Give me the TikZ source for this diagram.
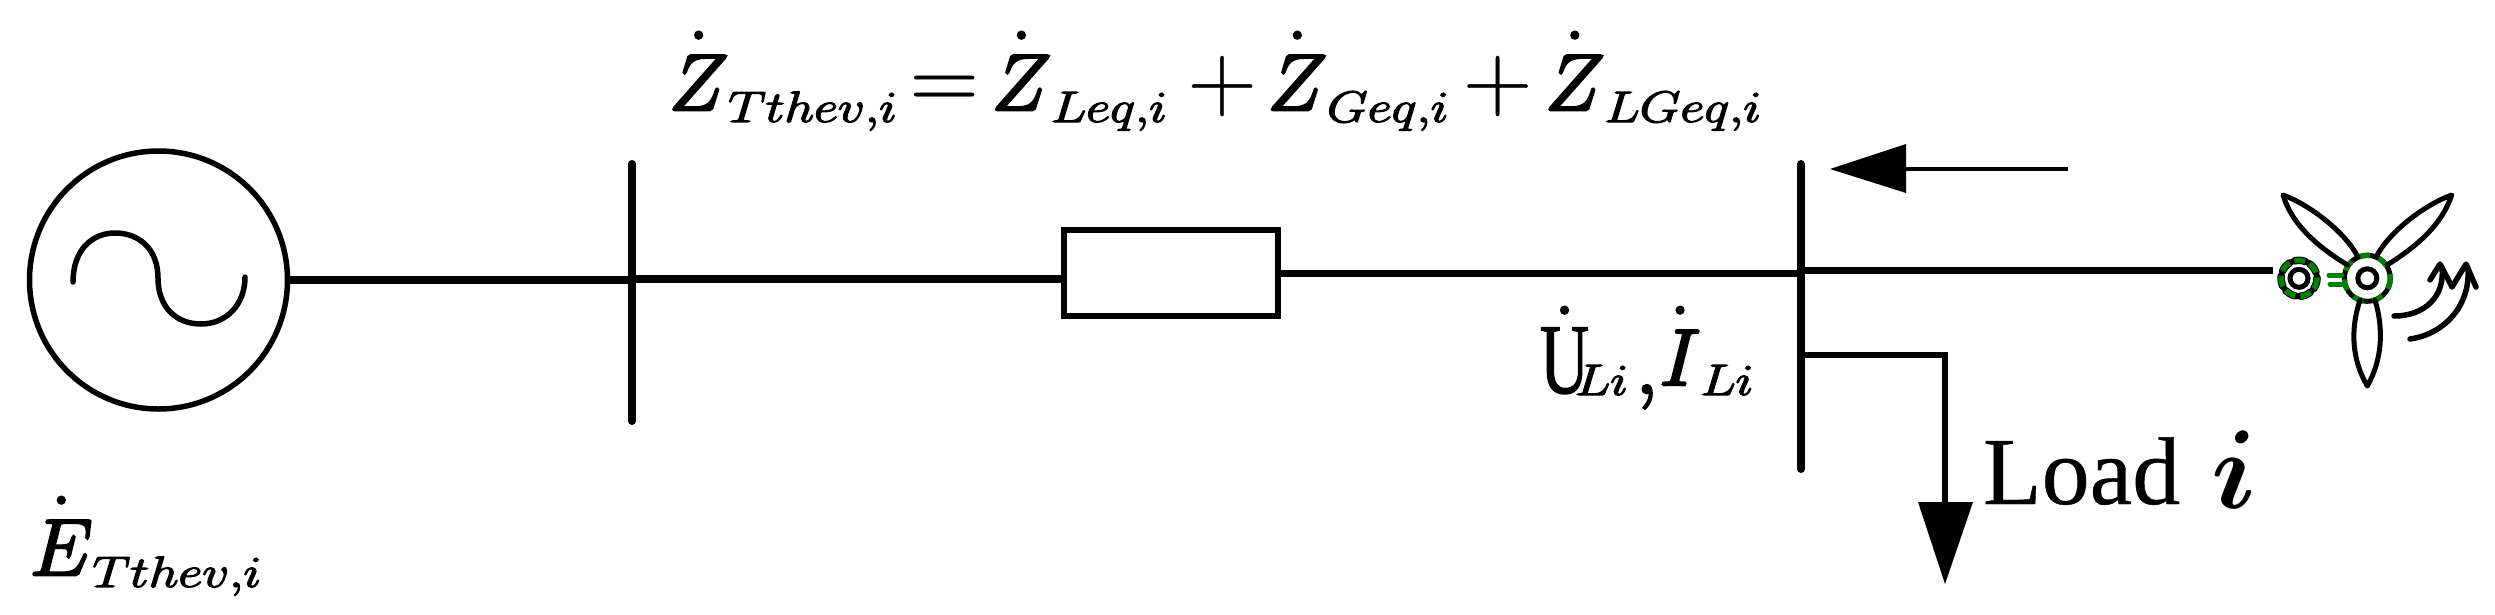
\RequirePackage{fix-cm}
\documentclass[tikz,border=0pt]{standalone}
\usepackage{fontspec}
\usepackage{graphicx}
\newfontfamily\timesf[FakeBold=0.4]{Liberation Serif}
\newfontfamily\timesu{Liberation Serif}
\definecolor{tgreen}{RGB}{0,128,0}
\DeclareMathSizes{80}{80}{44}{30}
\DeclareMathSizes{112}{112}{60}{40}
\newcommand{\subx}[2][1.2]{\scalebox{#1}[1]{\special{pdf:code 1.2 w}$\scriptstyle #2$}}
\newcommand{\hd}[1]{\dot{\raisebox{0pt}[60pt][0pt]{$#1$}}}
\newcommand{\bigop}[1]{\mathord{\scalebox{1.2}{\special{pdf:code 0.3 w}$#1$}}}
\newcommand{\heavy}{\special{pdf:code 2 Tr 2.6 w}}
\newcommand{\unheavy}{\special{pdf:code 0 Tr 1 w}}
\tikzset{
  wire/.style={line width=7pt,black},
  thick wire/.style={line width=8pt,black},
  busbar/.style={line width=8pt,black,line cap=round},
  mathlabel/.style={inner sep=0pt,outer sep=0pt,anchor=base west,font=\fontsize{80}{80}\selectfont},
  gring/.style={line width=7.5pt,black,line cap=round},
  gdash/.style={line width=5.5pt,tgreen},
  blade/.style={line width=5pt,black,line cap=round,line join=round}
}
\begin{document}
\begin{tikzpicture}[x=1pt,y=-1pt]
\useasboundingbox (0,0) rectangle (2495,614);
% generator
\node[circle,draw,line width=5.5pt,minimum size=258pt,inner sep=0pt] (gen) at (158.5,280) {};
\draw[line width=5.5pt,line cap=round] (73,282) .. controls (73,250) and (92,233) .. (115,233)
  .. controls (140,233) and (158,250) .. (158,278)
  .. controls (158,307) and (176,324) .. (201,324)
  .. controls (226,324) and (245,305) .. (245,277);
% buses
\coordinate (b1t) at (632,164); \coordinate (b1b) at (632,421);
\coordinate (b2t) at (1801,164); \coordinate (b2b) at (1801,469);
\draw[busbar] (b1t) -- (b1b);
\draw[busbar] (b2t) -- (b2b);
% impedance
\node[draw,line width=6pt,minimum width=214pt,minimum height=86pt,inner sep=0pt] (imp) at (1170.5,273) {};
% wires
\coordinate (w1) at (632,280);
\coordinate (w2) at (632,279);
\coordinate (w3) at (1801,273);
\coordinate (w4) at (1801,270.5);
\coordinate (w5) at (2273,270.5);
\draw[thick wire] (gen.east |- w1) -- (w1);
\draw[thick wire] (w2) -- (imp.west |- w2);
\draw[wire] (imp.east |- w3) -- (w3);
\draw[wire,line width=6.5pt] (w4) -- (w5);
% upper arrow
\coordinate (a1s) at (2068,169); \coordinate (a1b) at (1906,169);\coordinate (a1t) at (1830,169);
\draw[line width=4.5pt] (a1s) -- (a1b);
\fill (a1t) -- (1906,144) -- (1906,193) -- cycle;
% load branch
\coordinate (l1) at (1801,354.5); \coordinate (l2) at (1945,354.5); \coordinate (l3) at (1945,502);
\draw[line width=6pt] (l1) -- (l2) -- (l3);
\fill (1945,584) -- (1918,502) -- (1973,502) -- cycle;
% labels
\node[mathlabel] (eq) at (669,110) {\heavy$\hd{Z}_{\subx{Tthev,i}}\kern12pt\bigop{=}\kern13pt\hd{Z}_{\subx{Leq,i}}\kern20pt\bigop{+}\kern11pt\hd{Z}_{\subx{Geq,i}}\kern14pt\bigop{+}\kern13pt\hd{Z}_{\subx{LGeq,i}}$\unheavy};
\node[mathlabel] (elabel) at (30,575) {\heavy$\hd{E}_{\subx{Tthev,i}}$\unheavy};
\node[mathlabel] (ulabel) at (1540,393) {\heavy$\dot{\raisebox{0pt}[68pt][0pt]{\scalebox{0.68}[1]{\special{pdf:code 1.5 w}\timesu\fontsize{100}{100}\selectfont U}}}\kern-14pt\raisebox{-2pt}{\subx[1.2]{Li}}\kern8pt{,}\kern2pt\raisebox{8pt}{$\hd{I}$}\raisebox{-2pt}{\subx[1.2]{Li}}$\unheavy};
\node[inner sep=0pt,outer sep=0pt,anchor=base west] (load) at (1983,504) {\timesf\fontsize{96}{96}\selectfont Load};
\node[inner sep=0pt,outer sep=0pt,anchor=base west,font=\fontsize{112}{112}\selectfont\boldmath] (loadi) at (2211,508) {$i$};
% turbine
\node[circle,inner sep=0pt,minimum size=0pt] (hub1) at (2299,278.3) {};
\node[circle,inner sep=0pt,minimum size=0pt] (hub2) at (2367.3,278.3) {};
\draw[line width=5pt] (hub1) circle (9);
\draw[gring,dash pattern=on 11pt off 5pt] (hub1) circle (18);
\draw[gdash,dash pattern=on 11pt off 5pt] (hub1) circle (18);
\draw[line width=5pt] (hub2) circle (9.5);
\draw[line width=5pt] (hub2) circle (23);
\draw[gdash,dash pattern=on 11pt off 9pt] (hub2) circle (23);
\draw[tgreen,line width=5pt,line cap=round] (2329,275) -- (2342,275);
\draw[tgreen,line width=5pt,line cap=round] (2330,284) -- (2342,284);
% blades
\draw[blade] (2347.5,265) .. controls (2318,247) and (2292,225) .. (2283,195)
   .. controls (2310,205) and (2345,232) .. (2358,257);
\draw[blade] (2387,265) .. controls (2416,247) and (2442,225) .. (2451.7,195)
   .. controls (2424,205) and (2389,232) .. (2376,257);
\draw[blade] (2360,300) .. controls (2350,330) and (2352,360) .. (2367.3,386)
   .. controls (2382,360) and (2384,330) .. (2375,300);
% curved arrows
\draw[blade,line width=5.5pt] (2394,316) .. controls (2425,316) and (2445,296) .. (2442,268);
\draw[blade,line width=5.5pt] (2410,339) .. controls (2445,334) and (2470,305) .. (2468,270);
\draw[blade,line width=5.5pt] (2430,280) -- (2440,264) -- (2452,287) -- (2466,264) -- (2476,287);
\end{tikzpicture}
\end{document}
